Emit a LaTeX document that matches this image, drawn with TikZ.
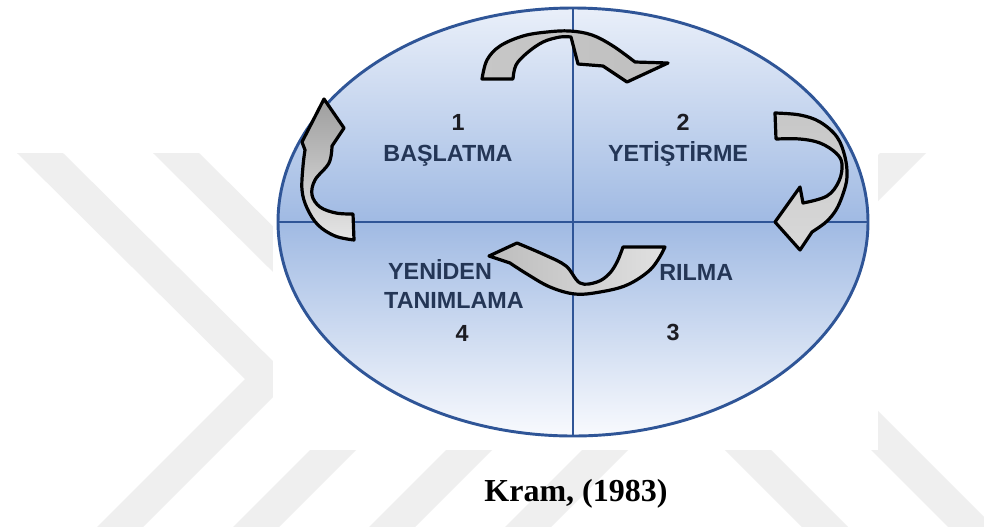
\documentclass[tikz,border=0pt]{standalone}
\usepackage{fontspec}
\setmainfont{Liberation Serif}
\newfontfamily\lsans{Liberation Sans}
\definecolor{elline}{RGB}{47,85,151}
\definecolor{elmid}{RGB}{160,186,227}
\definecolor{eltop}{RGB}{236,241,250}
\definecolor{elbot}{RGB}{250,251,254}
\definecolor{wordc}{RGB}{36,54,86}
\definecolor{numc}{RGB}{28,28,34}
\definecolor{wm}{RGB}{239,239,239}
\begin{document}
\begin{tikzpicture}[x=0.75pt,y=-0.75pt,
  wmband/.style={fill=wm,draw=none},
  ribbon/.style={draw=black,line width=2.4pt,line join=round},
  word/.style={font=\lsans\bfseries\fontsize{17.5}{20}\selectfont,text=wordc,inner sep=0pt,anchor=base},
  num/.style={font=\lsans\bfseries\fontsize{17.5}{20}\selectfont,text=numc,inner sep=0pt,anchor=base},
  axisline/.style={draw=elline,line width=2.2pt}]
\useasboundingbox (0,0) rectangle (984,526);
\fill[white] (0,0) rectangle (984,526);
% watermark
\begin{scope}
\clip (0,0) rectangle (984,526);
\fill[wmband] (17,153)--(63,153)--(291,379)--(130,540)--(84,540)--(245,379)--cycle;
\fill[wmband] (153,153)--(199,153)--(427,379)--(266,540)--(220,540)--(381,379)--cycle;
\fill[wmband] (289,153)--(335,153)--(563,379)--(402,540)--(356,540)--(517,379)--cycle;
\fill[wmband] (425,153)--(471,153)--(699,379)--(538,540)--(492,540)--(653,379)--cycle;
\fill[wmband] (880,153)--(926,153)--(700,379)--(861,540)--(815,540)--(654,379)--cycle;
\fill[wmband] (800,379)--(846,379)--(1007,540)--(961,540)--cycle;
\end{scope}
\fill[white] (273,0) rectangle (878,450);
% ellipse
\begin{scope}
\clip (573,222) ellipse [x radius=295,y radius=214];
\shade[top color=eltop,bottom color=elmid] (270,0) rectangle (880,222);
\shade[top color=elmid,bottom color=elbot] (270,222) rectangle (880,440);
\end{scope}
\coordinate (etop) at (573,8);
\coordinate (ebot) at (573,436);
\coordinate (elft) at (278,222);
\coordinate (ergt) at (868,222);
\draw[axisline] (etop) -- (ebot);
\draw[axisline] (elft) -- (ergt);
\draw[draw=elline,line width=2.2pt] (573,222) ellipse [x radius=295,y radius=214];
% texts
\node[num]  (n1) at (458,130) {1};
\node[word] (t1) at (448,161) {BAŞLATMA};
\node[num]  (n2) at (683,130) {2};
\node[word] (t2) at (678,161) {YETİŞTİRME};
\node[word] (t4a) at (440,279) {YENİDEN};
\node[word] (t4b) at (454,308) {TANIMLAMA};
\node[num]  (n4) at (462,341) {4};
\node[word,anchor=base west] (t3) at (659,280) {RILMA};
\node[num]  (n3) at (673,340) {3};
% arrows
\shadedraw[ribbon,left color=black!22,middle color=white,right color=black!25]
  (482,79) -- plot[smooth,tension=0.6] coordinates {(482,79) (487,60) (500,46) (523,36) (547,32) (570,31) (592,35) (613,46) (635,62)}
  -- (668,63) -- (627,82) -- (603,66) -- (578,64) -- (571,37)
  -- plot[smooth,tension=0.6] coordinates {(571,37) (560,37) (543,42) (527,53) (516,65) (513,79)} -- cycle;
\shadedraw[ribbon,top color=black!22,middle color=white,bottom color=black!15]
  (775,113) -- plot[smooth,tension=0.6] coordinates {(775,113) (800,115) (820,122) (837,137) (845,157) (847,177) (843,194) (836,210) (826,222) (812,232)}
  -- (800,250) -- (775,222) -- (800,187) -- (803,203)
  -- plot[smooth,tension=0.6] coordinates {(803,203) (827,196) (839,181) (842,164) (836,153) (820,143) (800,139) (776,139)} -- cycle;
\shadedraw[ribbon,top color=black!38,middle color=black!16,bottom color=black!10]
  (324,99) -- (344,128) -- (332,146)
  -- plot[smooth,tension=0.6] coordinates {(332,146) (329,163) (315,180) (312,195) (320,207) (336,213) (353,214)}
  -- (354,240)
  -- plot[smooth,tension=0.6] coordinates {(354,240) (335,236) (318,225) (307,208) (302,190) (303,166) (305,150)}
  -- (302,142) -- cycle;
\shadedraw[ribbon,left color=black!26,middle color=white,right color=black!12]
  (623,247) -- (665,247) -- (662,253)
  -- plot[smooth,tension=0.6] coordinates {(662,253) (650,270) (627,285) (600,292) (575,294) (550,287) (527,274) (510,263)}
  -- (489,256) -- (517,243)
  -- plot[smooth,tension=0.6] coordinates {(517,243) (545,255) (566,266) (580,283) (597,282) (609,274) (617,262) (623,247)} -- cycle;
% caption
\node[font=\bfseries\fontsize{24}{28}\selectfont,inner sep=0pt,anchor=base] (cap) at (576,501) {Kram, (1983)};
\end{tikzpicture}
\end{document}
